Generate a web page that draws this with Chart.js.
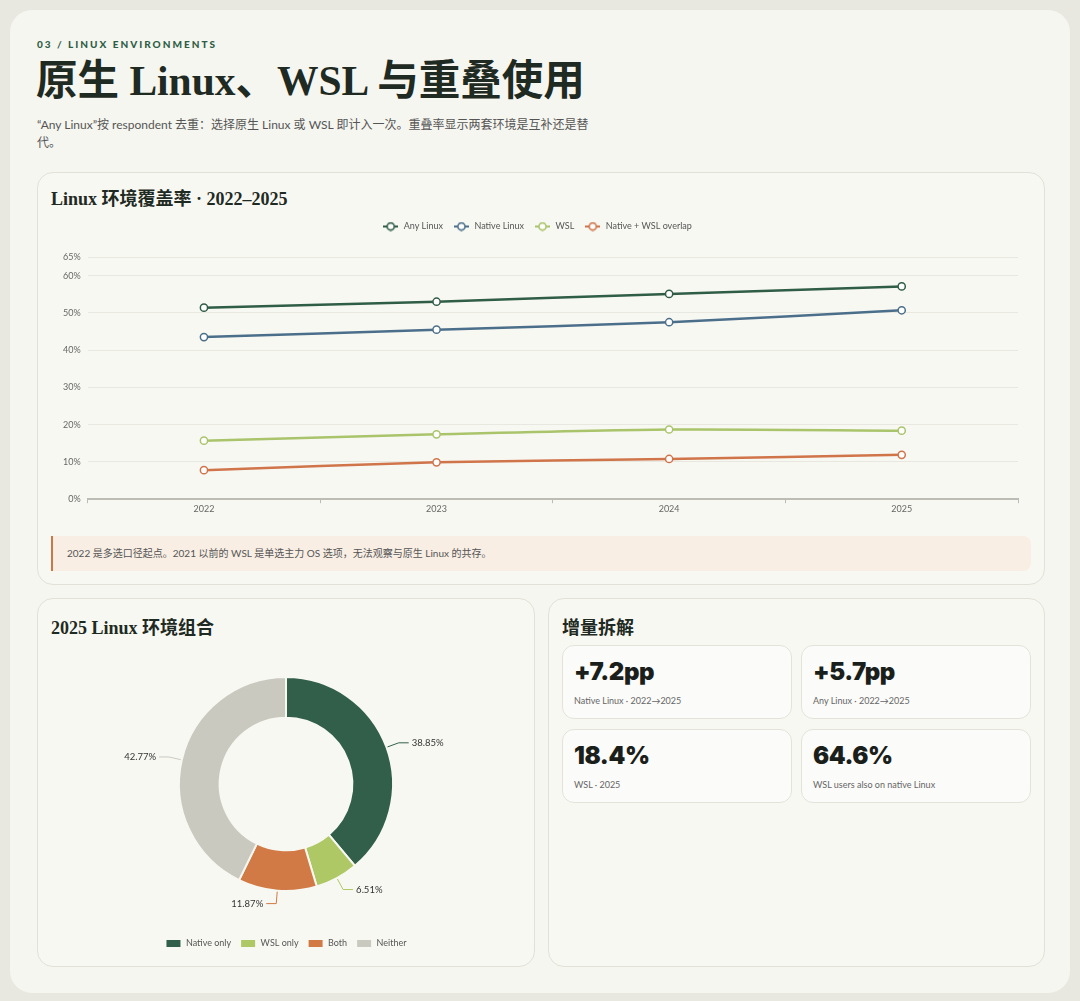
<!DOCTYPE html>
<html lang="zh-CN">
<head>
<meta charset="utf-8">
<title>Linux environments</title>
<script src="https://cdn.jsdelivr.net/npm/chart.js@4/dist/chart.umd.min.js"></script>
<style>
  html, body { margin: 0; padding: 0; }
  body {
    width: 1080px; height: 1001px; position: relative; overflow: hidden;
    background: #e8e7e0;
    font-family: Lato, "Noto Sans CJK SC", sans-serif;
    color: #1f2a22;
  }
  .abs { position: absolute; }
  .sheet { left: 10px; top: 10px; width: 1060px; height: 983px; border-radius: 22px; background: #f6f6f0; }
  .eyebrow { left: 37px; top: 38px; font-size: 10px; font-weight: 900; letter-spacing: 2px; color: #2f5d45; }
  .serif { font-family: "Liberation Serif", "Noto Sans CJK SC", serif; font-weight: bold; color: #1e2a22; }
  h1 { margin: 0; left: 36px; top: 56px; font-size: 41.5px; line-height: 50px; }
  .sub { left: 37px; top: 116px; width: 565px; font-size: 12px; line-height: 18px; color: #555; }
  .panel { background: #f8f8f3; border: 1px solid #e2e1d7; border-radius: 16px; box-sizing: border-box; }
  .ptitle { font-size: 18px; line-height: 22px; }
  .note {
    left: 51px; top: 536px; width: 980px; height: 35px; box-sizing: border-box;
    background: #f8eee4; border-left: 2px solid #d0744a; border-radius: 0 8px 8px 0;
    padding-left: 14px; font-size: 10px; line-height: 35px; color: #555;
  }
  .kpi { background: #fbfbf9; border: 1px solid #e4e3da; border-radius: 12px; box-sizing: border-box; width: 230px; height: 74px; }
  .kpi .num { position: absolute; left: 11px; top: 12px; font-family: Inter, Lato, sans-serif; font-weight: 900; font-size: 24px; line-height: 28px; letter-spacing: -0.4px; color: #1b1f1c; }
  .kpi .cap { position: absolute; left: 11px; top: 49px; font-size: 9px; line-height: 12px; color: #666; }
</style>
</head>
<body>
<div class="abs sheet"></div>
<div class="abs eyebrow">03 / LINUX ENVIRONMENTS</div>
<h1 class="abs serif">原生 Linux、WSL 与重叠使用</h1>
<div class="abs sub">“Any Linux”按 respondent 去重：选择原生 Linux 或 WSL 即计入一次。重叠率显示两套环境是互补还是替代。</div>

<div class="abs panel" style="left:37px;top:172px;width:1008px;height:413px;"></div>
<div class="abs serif ptitle" style="left:51px;top:188px;">Linux 环境覆盖率 · 2022–2025</div>
<div class="abs" style="left:51px;top:212px;width:980px;height:310px;"><canvas id="lineChart"></canvas></div>
<div class="abs note">2022 是多选口径起点。2021 以前的 WSL 是单选主力 OS 选项，无法观察与原生 Linux 的共存。</div>

<div class="abs panel" style="left:37px;top:598px;width:498px;height:369px;"></div>
<div class="abs serif ptitle" style="left:51px;top:617px;">2025 Linux 环境组合</div>
<div class="abs" style="left:51px;top:638px;width:470px;height:320px;"><canvas id="donutChart"></canvas></div>

<div class="abs panel" style="left:548px;top:598px;width:497px;height:369px;"></div>
<div class="abs serif ptitle" style="left:562px;top:617px;">增量拆解</div>
<div id="kpis"></div>

<script>
// 年份与各序列（%）
const years = ['2022', '2023', '2024', '2025'];
const anyLinux = [51.4, 53.0, 55.1, 57.1];
const nativeLinux = [43.5, 45.5, 47.5, 50.7];
const wsl = [15.7, 17.4, 18.7, 18.4];
const overlap = [7.8, 9.9, 10.8, 11.9];
const yTicks = [0, 10, 20, 30, 40, 50, 60, 65];

// 2025 环境组合
const mixLabels = ['Native only', 'WSL only', 'Both', 'Neither'];
const mixValues = [38.85, 6.51, 11.87, 42.77];

// 指标卡
const kpiValues = ['+7.2pp', '+5.7pp', '18.4%', '64.6%'];
const kpiCaptions = ['Native Linux · 2022→2025', 'Any Linux · 2022→2025', 'WSL · 2025', 'WSL users also on native Linux'];

const seriesColors = ['#2f5d45', '#4b6f8b', '#a9c46a', '#d0744a'];
const mixColors = ['#325f49', '#aec865', '#d27a45', '#cac9bf'];

Chart.defaults.font.family = 'Lato, "Noto Sans CJK SC", sans-serif';
Chart.defaults.color = '#666';

document.addEventListener("DOMContentLoaded", function() {
    buildKpis();
    initLineChart();
    initDonutChart();
});

function buildKpis() {
    const box = document.getElementById('kpis');
    const pos = [[562, 645], [801, 645], [562, 729], [801, 729]];
    kpiValues.forEach((v, i) => {
        const card = document.createElement('div');
        card.className = 'abs kpi';
        card.style.left = pos[i][0] + 'px';
        card.style.top = pos[i][1] + 'px';
        card.innerHTML = '<div class="num"></div><div class="cap"></div>';
        card.querySelector('.num').textContent = v;
        card.querySelector('.cap').textContent = kpiCaptions[i];
        box.appendChild(card);
    });
}

// 凡例用の -o- アイコン
function legendIcon(color) {
    const c = document.createElement('canvas');
    c.width = 15; c.height = 10;
    const g = c.getContext('2d');
    g.strokeStyle = color; g.lineWidth = 2;
    g.beginPath(); g.moveTo(0, 5); g.lineTo(15, 5); g.stroke();
    g.fillStyle = '#fff'; g.lineWidth = 1.6;
    g.beginPath(); g.arc(7.5, 5, 3.6, 0, Math.PI * 2); g.fill(); g.stroke();
    return c;
}

// 凡例の下に余白を足す
const legendGap = {
    id: 'legendGap',
    beforeInit(chart) {
        const fit = chart.legend.fit;
        chart.legend.fit = function() {
            fit.bind(chart.legend)();
            this.height += 16;
        };
    }
};

function initLineChart() {
    const names = ['Any Linux', 'Native Linux', 'WSL', 'Native + WSL overlap'];
    const series = [anyLinux, nativeLinux, wsl, overlap];
    const ctx = document.getElementById('lineChart').getContext('2d');
    new Chart(ctx, {
        type: 'line',
        data: {
            labels: years,
            datasets: series.map((d, i) => ({
                label: names[i],
                data: d,
                borderColor: seriesColors[i],
                backgroundColor: '#fff',
                borderWidth: 2.5,
                pointRadius: 3.6,
                pointBorderWidth: 1.5,
                pointBackgroundColor: '#fff',
                pointBorderColor: seriesColors[i],
                tension: 0.25
            }))
        },
        options: {
            responsive: true,
            maintainAspectRatio: false,
            animation: false,
            layout: { padding: { left: 5, right: 13, top: 0, bottom: 8 } },
            plugins: {
                tooltip: { enabled: false },
                legend: {
                    position: 'top',
                    labels: {
                        color: '#555',
                        font: { size: 9 },
                        usePointStyle: true,
                        pointStyleWidth: 17,
                        boxHeight: 10,
                        padding: 10,
                        generateLabels: chart => chart.data.datasets.map((ds, i) => ({
                            text: ds.label,
                            pointStyle: legendIcon(seriesColors[i]),
                            fontColor: '#555',
                            lineWidth: 0,
                            datasetIndex: i
                        }))
                    }
                }
            },
            scales: {
                x: {
                    offset: true,
                    grid: { display: true, drawOnChartArea: false, drawTicks: true, offset: true, tickLength: 4, color: '#bbb' },
                    border: { display: true, color: '#bdbdb5', width: 2 },
                    ticks: { font: { size: 9 }, color: '#666', padding: 0 }
                },
                y: {
                    min: 0, max: 65,
                    afterBuildTicks: axis => { axis.ticks = yTicks.map(v => ({ value: v })); },
                    grid: { color: '#e9e8e0', drawTicks: false },
                    border: { display: false },
                    ticks: { font: { size: 9 }, color: '#666', padding: 7, callback: v => v + '%' }
                }
            }
        },
        plugins: [legendGap]
    });
}

// ドーナツ外側ラベル
const outLabels = {
    id: 'outLabels',
    afterDatasetsDraw(chart) {
        const ctx = chart.ctx;
        const meta = chart.getDatasetMeta(0);
        ctx.save();
        ctx.font = '9.5px Lato, sans-serif';
        ctx.textBaseline = 'middle';
        meta.data.forEach((arc, i) => {
            const p = arc.getProps(['x', 'y', 'startAngle', 'endAngle', 'outerRadius'], true);
            const mid = (p.startAngle + p.endAngle) / 2;
            const c = Math.cos(mid), s = Math.sin(mid);
            const x1 = p.x + c * (p.outerRadius + 1), y1 = p.y + s * (p.outerRadius + 1);
            const x2 = p.x + c * (p.outerRadius + 13), y2 = p.y + s * (p.outerRadius + 13);
            const right = c >= 0;
            const x3 = x2 + (right ? 10 : -10);
            ctx.strokeStyle = mixColors[i];
            ctx.lineWidth = 1;
            ctx.beginPath(); ctx.moveTo(x1, y1); ctx.lineTo(x2, y2); ctx.lineTo(x3, y2); ctx.stroke();
            ctx.fillStyle = '#333';
            ctx.textAlign = right ? 'left' : 'right';
            ctx.fillText(mixValues[i].toFixed(2) + '%', x3 + (right ? 3 : -3), y2);
        });
        ctx.restore();
    }
};

function initDonutChart() {
    const ctx = document.getElementById('donutChart').getContext('2d');
    new Chart(ctx, {
        type: 'doughnut',
        data: {
            labels: mixLabels,
            datasets: [{
                data: mixValues,
                backgroundColor: mixColors,
                borderColor: '#f8f8f3',
                borderWidth: 2
            }]
        },
        options: {
            responsive: true,
            maintainAspectRatio: false,
            animation: false,
            radius: 107,
            cutout: '62%',
            layout: { padding: { top: 0, bottom: 0 } },
            plugins: {
                tooltip: { enabled: false },
                legend: {
                    position: 'bottom',
                    labels: { boxWidth: 16, boxHeight: 9, padding: 9, color: '#555', font: { size: 9 } }
                }
            }
        },
        plugins: [outLabels]
    });
}
</script>
</body>
</html>
